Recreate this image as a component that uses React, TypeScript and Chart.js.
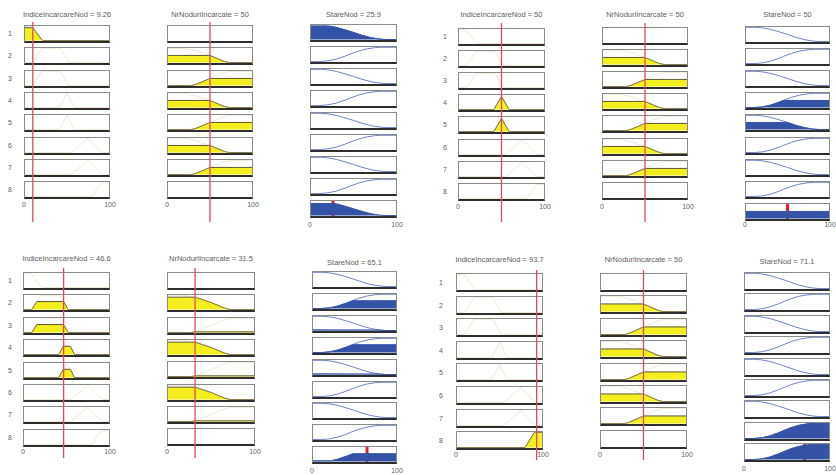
import React, { useEffect, useRef } from 'react';
import { Chart, registerables } from 'chart.js';
Chart.register(...registerables);

type Pt = [number, number];

// ---------------- data ----------------
const inputNames = ['IndiceIncarcareNod', 'NrNoduriIncarcate'];
const outputName = 'StareNod';
const input1Values = [9.26, 50, 46.6, 93.7];
const input2Values = [50, 50, 31.5, 50];
const outputValues = [25.9, 50, 65.1, 71.1];
const ruleLabels = ['1', '2', '3', '4', '5', '6', '7', '8'];
const xTickLabels = ['0', '100'];

// membership function outlines, input 1 (per rule)
const in1Mf1: Pt[] = [[0, 1], [8, 1], [21, 0], [100, 0]];
const in1Mf23: Pt[] = [[0, 0], [9, 0], [20, 1], [42, 1], [52, 0], [100, 0]];
const in1Mf45: Pt[] = [[0, 0], [41, 0], [50, 1], [59, 0], [100, 0]];
const in1Mf67: Pt[] = [[0, 0], [55, 0], [75, 1], [92, 0], [100, 0]];
const in1Mf8: Pt[] = [[0, 0], [80, 0], [91, 1], [100, 1]];
const in1Outlines: (Pt[] | null)[] = [in1Mf1, in1Mf23, in1Mf23, in1Mf45, in1Mf45, in1Mf67, in1Mf67, in1Mf8];

// membership function outlines, input 2
const in2Low: Pt[] = [[0, 1], [20, 1], [31.5, 0.87], [40, 0.7], [50, 0.5], [60, 0.25], [67, 0.08], [73, 0], [100, 0]];
const in2High: Pt[] = [[0, 0], [27, 0], [31.5, 0.05], [40, 0.25], [50, 0.5], [60, 0.75], [68, 0.93], [75, 1], [100, 1]];
const in2Outlines: (Pt[] | null)[] = [null, in2Low, in2High, in2Low, in2High, in2Low, in2High, null];

// membership function outlines, output
const outLow: Pt[] = [[0, 1], [12, 1], [20, 0.96], [30, 0.85], [40, 0.68], [50, 0.5], [60, 0.3], [70, 0.14], [80, 0.04], [88, 0], [100, 0]];
const outHigh: Pt[] = [[0, 0], [10, 0], [20, 0.05], [30, 0.18], [40, 0.38], [45, 0.5], [55, 0.72], [65, 0.88], [75, 0.97], [82, 1], [100, 1]];
const outOutlines: Pt[][] = [outLow, outHigh, outLow, outHigh, outLow, outHigh, outLow, outHigh];

// fired areas, input 1
const in1FillA_r1: Pt[] = [[0, 0.9], [9.26, 0.9], [21, 0], [100, 0]];
const in1FillB_r45: Pt[] = [[0, 0], [41, 0], [50, 0.92], [59, 0], [100, 0]];
const in1FillC_r23: Pt[] = [[0, 0], [9, 0], [15, 0.56], [46.6, 0.56], [52, 0], [100, 0]];
const in1FillC_r45: Pt[] = [[0, 0], [41, 0], [46, 0.58], [54.5, 0.58], [59.5, 0], [100, 0]];
const in1FillD_r8: Pt[] = [[0, 0], [80, 0], [91, 1], [100, 1]];
const in1Fills: (Pt[] | null)[][] = [
  [in1FillA_r1, null, null, null, null, null, null, null],
  [null, null, null, in1FillB_r45, in1FillB_r45, null, null, null],
  [null, in1FillC_r23, in1FillC_r23, in1FillC_r45, in1FillC_r45, null, null, null],
  [null, null, null, null, null, null, null, in1FillD_r8],
];

// fired areas, input 2
const in2FillLow50: Pt[] = [[0, 0.5], [50, 0.5], [60, 0.25], [67, 0.08], [73, 0], [100, 0]];
const in2FillHigh50: Pt[] = [[0, 0], [27, 0], [31.5, 0.05], [40, 0.25], [50, 0.5], [100, 0.5]];
const in2FillLow31: Pt[] = [[0, 0.87], [31.5, 0.87], [40, 0.7], [50, 0.5], [60, 0.25], [67, 0.08], [73, 0], [100, 0]];
const in2FillHigh31: Pt[] = [[0, 0], [27, 0], [31.5, 0.05], [100, 0.05]];
const in2Fills: (Pt[] | null)[][] = [
  [null, in2FillLow50, in2FillHigh50, in2FillLow50, in2FillHigh50, in2FillLow50, in2FillHigh50, null],
  [null, in2FillLow50, in2FillHigh50, in2FillLow50, in2FillHigh50, in2FillLow50, in2FillHigh50, null],
  [null, in2FillLow31, in2FillHigh31, in2FillLow31, in2FillHigh31, in2FillLow31, in2FillHigh31, null],
  [null, in2FillLow50, in2FillHigh50, in2FillLow50, in2FillHigh50, in2FillLow50, in2FillHigh50, null],
];

// fired areas, output
const outFillA_r1: Pt[] = [[0, 0.93], [22, 0.93], [30, 0.85], [40, 0.68], [50, 0.5], [60, 0.3], [70, 0.14], [80, 0.04], [88, 0], [100, 0]];
const outFillB_r4: Pt[] = [[0, 0], [10, 0], [20, 0.05], [30, 0.18], [40, 0.38], [45, 0.5], [100, 0.5]];
const outFillB_r5: Pt[] = [[0, 0.5], [50, 0.5], [60, 0.3], [70, 0.14], [80, 0.04], [88, 0], [100, 0]];
const outFillC_r24: Pt[] = [[0, 0], [10, 0], [20, 0.05], [30, 0.18], [40, 0.38], [48, 0.55], [100, 0.55]];
const outFillC_r35: Pt[] = [[0, 0.05], [80, 0.04], [88, 0], [100, 0]];
const outFillD_r8: Pt[] = [[0, 0], [10, 0], [20, 0.05], [30, 0.18], [40, 0.38], [45, 0.5], [55, 0.72], [65, 0.88], [75, 0.97], [82, 1], [100, 1]];
const outFills: (Pt[] | null)[][] = [
  [outFillA_r1, null, null, null, null, null, null, null],
  [null, null, null, outFillB_r4, outFillB_r5, null, null, null],
  [null, outFillC_r24, outFillC_r35, outFillC_r24, outFillC_r35, null, null, null],
  [null, null, null, null, null, null, null, outFillD_r8],
];

// aggregated output
const aggA: Pt[] = [[0, 0.85], [26, 0.85], [30, 0.82], [40, 0.66], [50, 0.48], [60, 0.3], [70, 0.14], [80, 0.04], [88, 0], [100, 0]];
const aggB: Pt[] = [[0, 0.5], [100, 0.5]];
const aggC: Pt[] = [[0, 0.05], [22, 0.06], [30, 0.18], [40, 0.38], [48, 0.55], [100, 0.55]];
const aggD: Pt[] = [[0, 0], [10, 0], [20, 0.05], [30, 0.18], [40, 0.38], [45, 0.5], [55, 0.72], [65, 0.88], [75, 0.97], [82, 1], [100, 1]];
const aggFills: Pt[][] = [aggA, aggB, aggC, aggD];

// ---------------- layout / style ----------------
type ColLayout = { x: number; w: number; top: number; pitch: number; titleY: number; tickY: number };
type ViewerLayout = { cols: ColLayout[]; boxH: number; rowNumX: number; lineTop: number; lineBottom: number };
const viewerLayouts: ViewerLayout[] = [
  {
    cols: [
      { x: 24, w: 86, top: 25, pitch: 22.3, titleY: 15, tickY: 205 },
      { x: 167, w: 86, top: 25, pitch: 22.3, titleY: 15, tickY: 205 },
      { x: 310, w: 87, top: 24, pitch: 22, titleY: 15, tickY: 225 },
    ],
    boxH: 18, rowNumX: 10, lineTop: 22, lineBottom: 222,
  },
  {
    cols: [
      { x: 458, w: 87, top: 28, pitch: 22.1, titleY: 15, tickY: 207 },
      { x: 602, w: 86, top: 27, pitch: 22.1, titleY: 15, tickY: 207 },
      { x: 745, w: 85, top: 26, pitch: 22.1, titleY: 15, tickY: 225 },
    ],
    boxH: 18, rowNumX: 445, lineTop: 23, lineBottom: 222,
  },
  {
    cols: [
      { x: 23, w: 87, top: 272, pitch: 22.4, titleY: 259, tickY: 452 },
      { x: 167, w: 88, top: 272, pitch: 22.3, titleY: 259, tickY: 452 },
      { x: 312, w: 85, top: 271, pitch: 21.9, titleY: 263, tickY: 471 },
    ],
    boxH: 18, rowNumX: 10, lineTop: 268, lineBottom: 458,
  },
  {
    cols: [
      { x: 456, w: 87, top: 273, pitch: 22.6, titleY: 260, tickY: 455 },
      { x: 600, w: 87, top: 273, pitch: 22.4, titleY: 260, tickY: 455 },
      { x: 744, w: 86, top: 272, pitch: 21.4, titleY: 262, tickY: 469 },
    ],
    boxH: 19, rowNumX: 441, lineTop: 270, lineBottom: 460,
  },
];

const C = {
  yellow: '#f3ee1e',
  yellowEdge: '#5d5830',
  faint: 'rgba(210,190,130,0.35)',
  blueLine: '#6c84c6',
  blueFill: '#3452a6',
  red: 'rgb(232,70,92)',
  centroid: '#e4202c',
  border: '#8a8a8a',
  borderBottom: '#2e2e2e',
  text: '#606060',
};
const FONT = '"Liberation Sans", Arial, sans-serif';

// ---------------- helpers ----------------
const xy = (pts: Pt[]) => pts.map(([x, y]) => ({ x, y }));
const lineDs = (pts: Pt[], color: string, width = 1) => ({
  data: xy(pts), showLine: true, borderColor: color, borderWidth: width, pointRadius: 0, fill: false,
});
const fillDs = (pts: Pt[], fillColor: string, edge: string) => ({
  data: xy(pts), showLine: true, borderColor: edge, borderWidth: 1, pointRadius: 0,
  fill: 'origin', backgroundColor: fillColor,
});

function MiniChart({ left, top, width, height, datasets, yMin = -0.03, yMax = 1.02, z = 1 }: any) {
  const ref = useRef<HTMLCanvasElement>(null);
  useEffect(() => {
    const chart = new Chart(ref.current!, {
      type: 'scatter',
      data: { datasets },
      options: {
        animation: false,
        responsive: false,
        maintainAspectRatio: false,
        events: [],
        layout: { padding: 0 },
        plugins: { legend: { display: false }, tooltip: { enabled: false }, title: { display: false } },
        scales: {
          x: { type: 'linear', min: 0, max: 100, display: false },
          y: { type: 'linear', min: yMin, max: yMax, display: false },
        },
        elements: { point: { radius: 0 }, line: { tension: 0 } },
      } as any,
    } as any);
    return () => chart.destroy();
  }, []);
  return (
    <canvas
      ref={ref}
      width={width}
      height={height}
      style={{ position: 'absolute', left, top, width, height, zIndex: z, pointerEvents: 'none' }}
    />
  );
}

function Box({ x, y, w, h, datasets }: any) {
  return (
    <div
      style={{
        position: 'absolute', left: x, top: y, width: w, height: h, boxSizing: 'border-box',
        border: `1px solid ${C.border}`, borderBottom: `2px solid ${C.borderBottom}`, background: '#fff',
      }}
    >
      {datasets.length > 0 && <MiniChart left={0} top={0} width={w - 2} height={h - 3} datasets={datasets} />}
    </div>
  );
}

function Label({ cx, cy, text, w = 140, size = 7.5 }: any) {
  return (
    <div
      style={{
        position: 'absolute', left: cx - w / 2, top: cy - 5, width: w, height: 10, textAlign: 'center',
        fontFamily: FONT, fontSize: `${size}px`, lineHeight: '10px', color: C.text, whiteSpace: 'nowrap',
      }}
    >
      {text}
    </div>
  );
}

function Viewer({ vi }: { vi: number }) {
  const L = viewerLayouts[vi];
  const items: any[] = [];
  const inputVals = [input1Values[vi], input2Values[vi]];
  const outlineSets = [in1Outlines, in2Outlines];
  const fillSets = [in1Fills[vi], in2Fills[vi]];

  for (let c = 0; c < 2; c++) {
    const col = L.cols[c];
    items.push(<Label key={`t${c}`} cx={col.x + col.w / 2} cy={col.titleY} text={`${inputNames[c]} = ${inputVals[c]}`} />);
    for (let r = 0; r < 8; r++) {
      const ds: any[] = [];
      const outline = outlineSets[c][r];
      const fill = fillSets[c][r];
      if (outline) ds.push(lineDs(outline, C.faint));
      if (fill) ds.push(fillDs(fill, C.yellow, C.yellowEdge));
      items.push(
        <Box key={`b${c}-${r}`} x={col.x} y={Math.round(col.top + r * col.pitch)} w={col.w} h={L.boxH} datasets={ds} />
      );
    }
    items.push(<Label key={`k0${c}`} cx={col.x} cy={col.tickY} text={xTickLabels[0]} w={20} size={7} />);
    items.push(<Label key={`k1${c}`} cx={col.x + col.w} cy={col.tickY} text={xTickLabels[1]} w={20} size={7} />);
    items.push(
      <MiniChart
        key={`red${c}`}
        left={col.x + 1}
        top={L.lineTop}
        width={col.w - 2}
        height={L.lineBottom - L.lineTop}
        yMin={0}
        yMax={1}
        z={5}
        datasets={[lineDs([[inputVals[c], 0], [inputVals[c], 1]], C.red, 1.3)]}
      />
    );
  }
  // row numbers
  const c0 = L.cols[0];
  for (let r = 0; r < 8; r++) {
    items.push(
      <Label key={`n${r}`} cx={L.rowNumX} cy={Math.round(c0.top + r * c0.pitch) + L.boxH / 2} text={ruleLabels[r]} w={12} size={7} />
    );
  }
  // output column
  const oc = L.cols[2];
  items.push(<Label key="to" cx={oc.x + oc.w / 2} cy={oc.titleY} text={`${outputName} = ${outputValues[vi]}`} />);
  for (let r = 0; r < 8; r++) {
    const ds: any[] = [];
    const fill = outFills[vi][r];
    if (fill) ds.push(fillDs(fill, C.blueFill, C.blueFill));
    ds.push(lineDs(outOutlines[r], C.blueLine));
    items.push(<Box key={`o${r}`} x={oc.x} y={Math.round(oc.top + r * oc.pitch)} w={oc.w} h={L.boxH} datasets={ds} />);
  }
  items.push(
    <Box
      key="agg"
      x={oc.x}
      y={Math.round(oc.top + 8 * oc.pitch)}
      w={oc.w}
      h={L.boxH}
      datasets={[
        fillDs(aggFills[vi], C.blueFill, C.blueFill),
        lineDs([[outputValues[vi], -0.05], [outputValues[vi], 1.05]], C.centroid, 3),
      ]}
    />
  );
  items.push(<Label key="ok0" cx={oc.x} cy={oc.tickY} text={xTickLabels[0]} w={20} size={7} />);
  items.push(<Label key="ok1" cx={oc.x + oc.w} cy={oc.tickY} text={xTickLabels[1]} w={20} size={7} />);
  return <>{items}</>;
}

export default function App() {
  return (
    <div
      style={{
        position: 'fixed', left: 0, top: 0, width: 836, height: 475, background: '#fff', overflow: 'hidden',
      }}
    >
      {[0, 1, 2, 3].map((vi) => (
        <Viewer key={vi} vi={vi} />
      ))}
    </div>
  );
}
